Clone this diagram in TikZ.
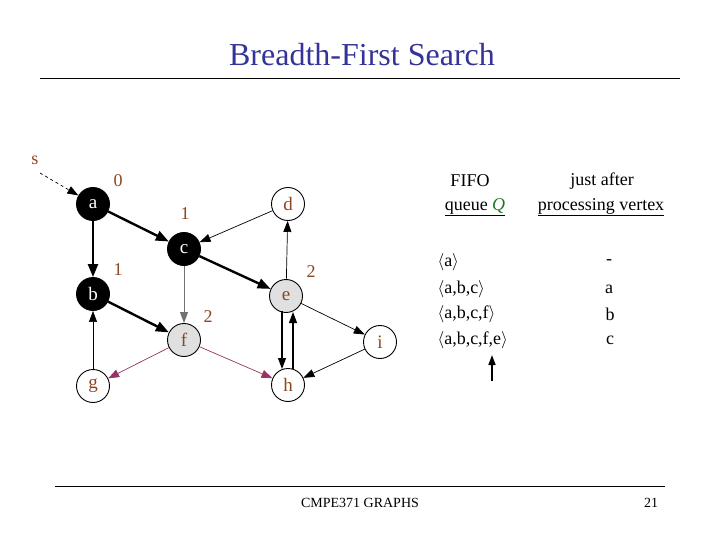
\documentclass[tikz,border=0pt]{standalone}
\usepackage{fontspec}
\setmainfont{Liberation Serif}
\usetikzlibrary{arrows.meta}
\definecolor{lbl}{RGB}{140,70,30}
\definecolor{ttl}{RGB}{51,51,153}
\definecolor{mag}{RGB}{150,50,100}
\definecolor{qg}{RGB}{30,120,30}
\begin{document}
\begin{tikzpicture}[x=1pt,y=-1pt,
 v/.style={circle,draw,line width=0.9pt,minimum size=33pt,inner sep=0pt,font=\fontsize{19}{19}\selectfont,text=lbl},
 blk/.style={v,fill=black,text=white},
 gry/.style={v,fill=black!12},
 lab/.style={text=lbl,font=\fontsize{18}{18}\selectfont},
 ed/.style={-{Triangle[length=11pt,width=8pt]},line width=0.7pt},
 tr/.style={-{Triangle[length=13pt,width=10pt]},line width=2.4pt},
 txt/.style={font=\fontsize{18}{18}\selectfont}]
\useasboundingbox (0,0) rectangle (720,540);
\node[text=ttl,font=\fontsize{32}{32}\selectfont] (title) at (362,55) {Breadth-First Search};
\draw[thin] (40,78) -- (680,78);
\draw[thin] (55,486) -- (665,486);
\node[font=\fontsize{14}{14}\selectfont] (foot) at (360,503) {CMPE371 GRAPHS};
\node[font=\fontsize{14}{14}\selectfont] (pg) at (651,503) {21};
% graph
\node[blk] (a) at (93,204) {a};
\node[blk] (c) at (184,249) {c};
\node[blk] (b) at (93,294) {b};
\node[v] (d) at (288,204) {d};
\node[gry] (e) at (286,296) {e};
\node[gry] (f) at (184,340) {f};
\node[v] (i) at (380,342) {i};
\node[v] (g) at (93,386) {g};
\node[v] (h) at (288,385) {h};
\node[lab] (s) at (35,160) {s};
\coordinate (s0) at (40,173);
\node[lab] at (118,181) {0};
\node[lab] at (185,214) {1};
\node[lab] at (118,270) {1};
\node[lab] at (311,272) {2};
\node[lab] at (208,317) {2};
\draw[ed,dashed] (s0) -- (a);
\draw[tr] (a) -- (c);
\draw[tr] (a) -- (b);
\draw[tr] (c) -- (e);
\draw[tr] (b) -- (f);
\draw[ed,black!55] (c) -- (f);
\draw[ed] (d) -- (c);
\draw[ed] (e) -- (d);
\draw[ed] (g) -- (b);
\draw[ed] (e) -- (i);
\draw[ed] (i) -- (h);
\coordinate (e1) at (282,311);
\coordinate (h1) at (282,369);
\coordinate (e2) at (293,312);
\coordinate (h2) at (293,369);
\draw[ed,line width=1.1pt] (e1) -- (h1);
\draw[ed,line width=1.1pt] (h2) -- (e2);
\draw[ed,mag] (f) -- (g);
\draw[ed,mag] (f) -- (h);
% table
\node[txt] (h1) at (470,181) {FIFO};
\node[txt] (h2) at (475,207) {\underline{queue \textcolor{qg}{\textit{Q}}}};
\node[txt] (h3) at (602,181) {just after};
\node[txt] (h4) at (601,207) {\underline{processing vertex}};
\node[txt,anchor=west] (q1) at (434,262) {$\langle$a$\rangle$};
\node[txt,anchor=west] (q2) at (434,289) {$\langle$a,b,c$\rangle$};
\node[txt,anchor=west] (q3) at (434,314) {$\langle$a,b,c,f$\rangle$};
\node[txt,anchor=west] (q4) at (434,340) {$\langle$a,b,c,f,e$\rangle$};
\node[txt] (p1) at (609,262) {-};
\node[txt] (p2) at (609,289) {a};
\node[txt] (p3) at (610,314) {b};
\node[txt] (p4) at (610,340) {c};
\coordinate (ar0) at (492,381);
\coordinate (ar1) at (492,355);
\draw[-{Triangle[length=10pt,width=7pt]},line width=1.6pt] (ar0) -- (ar1);
\end{tikzpicture}
\end{document}
